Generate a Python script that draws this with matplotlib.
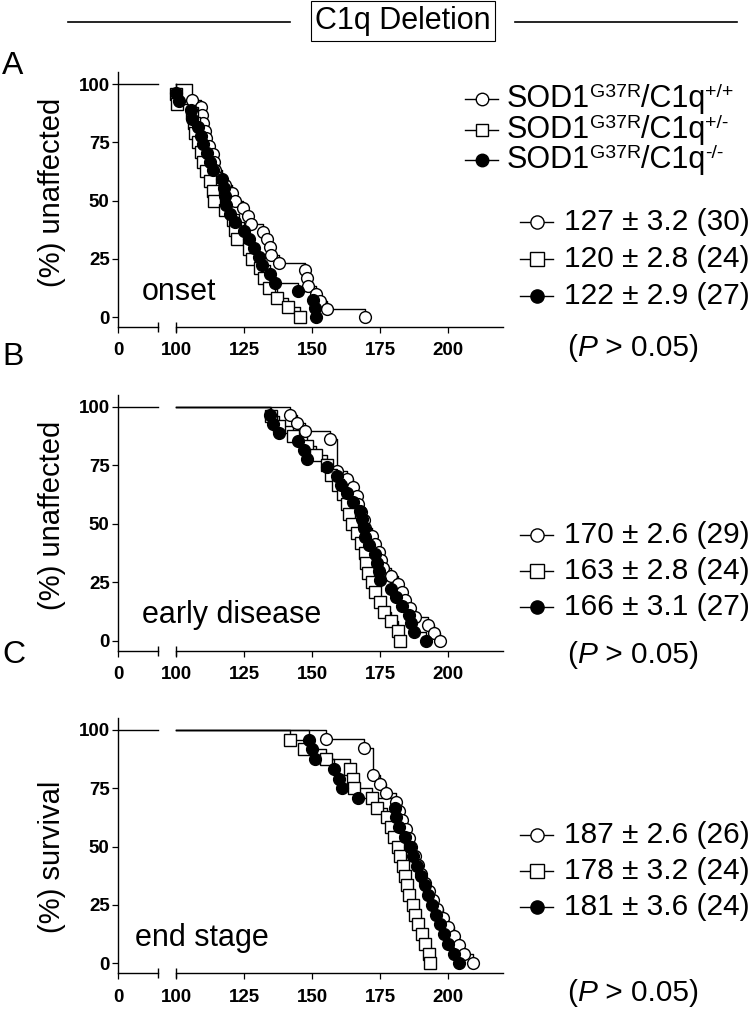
import matplotlib
matplotlib.use("Agg")
import matplotlib.pyplot as plt
import numpy as np

plt.rcParams["font.family"] = ["Liberation Sans", "DejaVu Sans"]

# event days (one entry per animal)
onset_wt = [106, 106, 109, 109.5, 110, 110.5, 111, 112, 113.5, 114, 114.5, 115, 118, 120.5, 121.5,
            124.5, 126.5, 127.5, 132, 133.5, 134.5, 135, 138, 147.5, 148, 148.5, 151.5, 153, 155.5, 169.5]
onset_het = [100, 100.5, 106, 106.5, 107, 108, 109, 110, 111, 112.5, 113.5, 114, 118, 121, 121.5,
             122.5, 127, 128, 131, 132.5, 134, 137, 141, 145.5]
onset_ko = [100, 101, 105.5, 106, 108, 109, 110, 111.5, 112.5, 113.5, 117, 117.5, 118, 118.5, 120,
            121.5, 125, 127, 128.5, 130.5, 131.5, 134.5, 136.5, 145, 150.5, 151, 151.5]

early_wt = [142, 144.5, 147.5, 156.5, 159, 159, 159, 159, 163, 165, 166.5, 167, 168, 169, 169.5,
            172, 173, 174.5, 175.5, 176, 179, 181.5, 183, 184, 186, 188, 192.5, 195, 197]
early_het = [135, 138, 143, 148, 151.5, 155.5, 157, 159.5, 161.5, 163, 163.5, 164.5, 166.5, 168,
             169.5, 170, 170.5, 172, 173, 175, 176.5, 179, 181.5, 182.5]
early_ko = [134.5, 135.5, 138, 145, 147, 148, 155.5, 159, 160.5, 163, 165, 167.5, 168.5, 169, 169.5,
            171, 173, 174, 174.5, 175, 179, 181, 183, 185.5, 186.5, 187.5, 192]

end_wt = [155, 169, 172.5, 172.5, 172.5, 175, 177, 181, 182, 183, 184.5, 185.5, 186.5, 188, 189, 190,
          191.5, 193, 194.5, 196, 198, 200, 202, 204, 206, 209]
end_het = [142, 147, 155, 164, 165, 165.5, 172, 174, 177.5, 179, 180, 181.5, 182.5, 183.5, 184, 185,
           185.5, 187, 188, 189, 190.5, 191.5, 193, 193.5]
end_ko = [149, 150, 151, 158, 160, 161, 167, 180.5, 181, 182, 184, 186, 187, 188.5, 190, 191.5, 192.5,
          194, 195.5, 197, 198.5, 200, 202, 204]

stats_onset = ["127 ± 3.2 (30)", "120 ± 2.8 (24)", "122 ± 2.9 (27)"]
stats_early = ["170 ± 2.6 (29)", "163 ± 2.8 (24)", "166 ± 3.1 (27)"]
stats_end = ["187 ± 2.6 (26)", "178 ± 3.2 (24)", "181 ± 3.6 (24)"]

genotypes = ["+/+", "+/-", "-/-"]
xtick_vals = [100, 125, 150, 175, 200]
ytick_vals = [0, 25, 50, 75, 100]

styles = [("o", "white"), ("s", "white"), ("o", "black")]

# broken x axis: "0" sits left of the break, real days from 100 on
X0 = 100 - 58 / 2.72
BREAK = 100 - 18 / 2.72
XMAX = 220.2


def km(times):
    t = np.asarray(times, float)
    u, c = np.unique(t, return_counts=True)
    surv = 100.0 * (len(t) - np.cumsum(c)) / len(t)
    return u, surv


fig = plt.figure(figsize=(7.56, 10.15), dpi=100)

panels = [
    ([0.1561, 0.6778, 0.5093, 0.2508], [onset_wt, onset_het, onset_ko], "(%) unaffected", "onset", 87.4),
    ([0.1561, 0.3588, 0.5093, 0.2520], [early_wt, early_het, early_ko], "(%) unaffected", "early disease", 87.4),
    ([0.1561, 0.0411, 0.5093, 0.2512], [end_wt, end_het, end_ko], "(%) survival", "end stage", 84.9),
]

for rect, groups, ylab, note, note_x in panels:
    ax = fig.add_axes(rect)
    ax.plot([X0, BREAK], [100, 100], color="k", lw=1.0)
    for times, (mk, fc) in zip(groups, styles):
        u, s = km(times)
        ax.plot(np.r_[100, u], np.r_[100, s], drawstyle="steps-post", color="k", lw=1.0, zorder=2)
    for times, (mk, fc) in zip(groups, styles):
        u, s = km(times)
        ax.plot(u, s, ls="none", marker=mk, ms=8.5, mfc=fc, mec="k", mew=1.0, zorder=3, clip_on=False)

    ax.set_xlim(X0, XMAX)
    ax.set_ylim(-4.3, 105)
    for side in ("top", "right"):
        ax.spines[side].set_visible(False)
    ax.spines["bottom"].set_bounds(100, XMAX)
    for sp in ax.spines.values():
        sp.set_linewidth(1.0)
    xt = ax.get_xaxis_transform()
    ax.plot([X0, BREAK], [0, 0], color="k", lw=1.0, transform=xt, clip_on=False)
    ax.plot([BREAK, 100], [0, 0], ls="none", marker="|", ms=7, mew=1.0, color="k",
            transform=xt, clip_on=False)

    ax.set_xticks([X0] + xtick_vals)
    ax.set_xticklabels(["0"] + [str(v) for v in xtick_vals])
    ax.set_yticks(ytick_vals)
    ax.tick_params(axis="both", direction="out", length=4, width=0.9, labelsize=13.5)
    ax.tick_params(axis="x", pad=7)
    ax.tick_params(axis="y", pad=2)
    for lab in ax.get_xticklabels() + ax.get_yticklabels():
        lab.set_fontweight("bold")

    ax.text(note_x, 7.5, note, fontsize=22, va="baseline", ha="left")

# overlay in pixel coordinates for the free text
lay = fig.add_axes([0, 0, 1, 1], zorder=10)
lay.set_xlim(0, 756)
lay.set_ylim(1015, 0)
lay.axis("off")
lay.patch.set_visible(False)

fig.canvas.draw()
r = fig.canvas.get_renderer()


def rich(x, y, parts):
    for txt, size, dy, style in parts:
        t = lay.text(x, y - dy, txt, fontsize=size, va="baseline", ha="left", style=style)
        x += t.get_window_extent(r).width
    return x


def symbol(x0, x1, y, mk, fc, ms=9.5):
    lay.plot([x0, x1], [y, y], color="k", lw=1.0)
    lay.plot([(x0 + x1) / 2], [y], marker=mk, ms=ms, mfc=fc, mec="k", mew=1.0)


# title
lay.text(403, 21, "C1q Deletion", fontsize=22, ha="center", va="center",
         bbox=dict(boxstyle="square,pad=0.15", fc="white", ec="k", lw=0.8))
lay.plot([68, 290], [22, 22], color="k", lw=1.2)
lay.plot([515, 737], [22, 22], color="k", lw=1.2)

for letter, yy in zip("ABC", [66, 357, 655]):
    lay.text(2, yy, letter, fontsize=23, ha="left", va="center")

# y labels
for ylab, yy in zip([p[2] for p in panels], [192, 515, 857]):
    lay.text(52, yy, ylab, fontsize=21, rotation=90, ha="center", va="center")

# genotype legend
for (mk, fc), g, yy in zip(styles, genotypes, [99, 130, 160]):
    symbol(465, 498, yy, mk, fc, ms=9)
    rich(507, yy + 8, [("SOD1", 22, 0, "normal"), ("G37R", 14, 10, "normal"),
                       ("/C1q", 22, 0, "normal"), (g, 14, 10, "normal")])

# group means
for stats, rows, py in [(stats_onset, [222, 259, 296], 348),
                        (stats_early, [535, 571, 607], 655),
                        (stats_end, [835, 871, 907], 993)]:
    for (mk, fc), s, yy in zip(styles, stats, rows):
        symbol(520, 553, yy, mk, fc)
        rich(564, yy + 8, [(s, 21.5, 0, "normal")])
    rich(567, py + 8, [("(", 21.5, 0, "normal"), ("P", 21.5, 0, "italic"),
                       (" > 0.05)", 21.5, 0, "normal")])

fig.savefig("out.png", dpi=100)
